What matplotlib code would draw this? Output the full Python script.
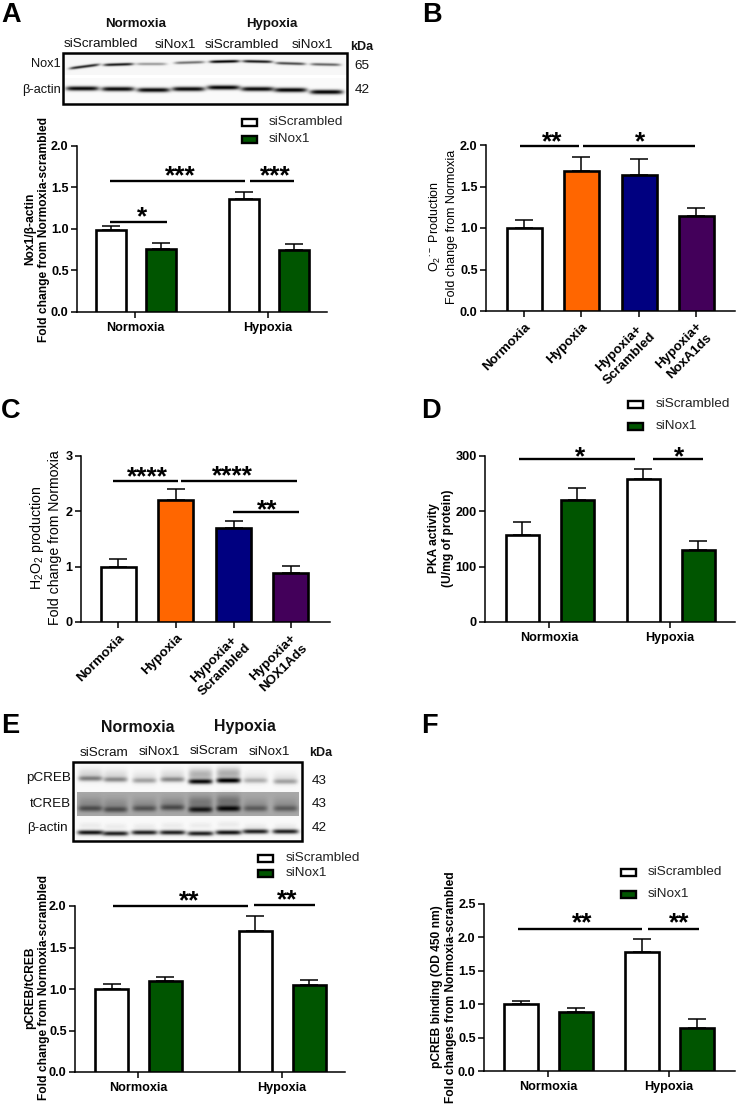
import numpy as np
import matplotlib
matplotlib.use("Agg")
import matplotlib.pyplot as plt
from matplotlib.patches import Rectangle

plt.rcParams['font.family'] = ['Liberation Sans', 'DejaVu Sans']
plt.rcParams['mathtext.fontset'] = 'custom'
plt.rcParams['mathtext.rm'] = 'Liberation Sans'
plt.rcParams['mathtext.bf'] = 'Liberation Sans:bold'
plt.rcParams['mathtext.default'] = 'regular'

W, H = 737, 1104

# bar data
nox1_vals = [0.99, 0.76, 1.36, 0.75]
nox1_err = [0.05, 0.07, 0.09, 0.07]
o2_vals = [1.0, 1.69, 1.64, 1.15]
o2_err = [0.10, 0.16, 0.19, 0.09]
h2o2_vals = [1.0, 2.2, 1.7, 0.88]
h2o2_err = [0.14, 0.21, 0.12, 0.13]
pka_vals = [157, 220, 259, 130]
pka_err = [24, 23, 18, 17]
creb_vals = [1.0, 1.1, 1.7, 1.05]
creb_err = [0.06, 0.04, 0.18, 0.06]
binding_vals = [1.0, 0.89, 1.78, 0.64]
binding_err = [0.05, 0.05, 0.19, 0.14]

group_labels = ['Normoxia', 'Hypoxia']
labels_b = ['Normoxia', 'Hypoxia', 'Hypoxia+\nScrambled', 'Hypoxia+\nNoxA1ds']
labels_c = ['Normoxia', 'Hypoxia', 'Hypoxia+\nScrambled', 'Hypoxia+\nNOX1Ads']

# blot band darkness per lane, read by eye
nox1_band = [0.8, 0.85, 0.35, 0.5, 0.95, 0.85, 0.65, 0.55]
actin_a_band = [0.95, 0.95, 0.95, 0.95, 0.97, 0.95, 0.97, 0.97]
pcreb_band = [0.45, 0.4, 0.3, 0.4, 0.95, 1.0, 0.25, 0.3]
tcreb_band = [0.5, 0.5, 0.45, 0.5, 0.85, 0.95, 0.4, 0.4]
actin_e_band = [0.9, 0.85, 0.85, 0.85, 0.85, 0.9, 0.85, 0.85]

WHITE, GREEN = 'white', '#005500'
ORANGE, NAVY, PURPLE = '#FF6600', '#000080', '#43005A'

fig = plt.figure(figsize=(W / 100, H / 100), dpi=100)
over = fig.add_axes([0, 0, 1, 1], zorder=5)
over.set_xlim(0, W)
over.set_ylim(H, 0)
over.axis('off')
over.patch.set_alpha(0)


def bar_panel(left, right, y0, ytop, ymax, yticks, fmt, vals, errs, colors, centers, width, ticks, labels, rotate=False):
    ax = fig.add_axes([left / W, 1 - y0 / H, (right - left) / W, (y0 - ytop) / H])
    ax.set_xlim(left, right)
    ax.set_ylim(0, ymax)
    ax.bar(centers, vals, width=width, color=colors, edgecolor='black', linewidth=1.9, zorder=3)
    ax.errorbar(centers, vals, yerr=[np.zeros(len(vals)), errs], fmt='none', ecolor='black',
                elinewidth=1.1, capsize=6.2, capthick=1.1, zorder=2)
    ax.spines['top'].set_visible(False)
    ax.spines['right'].set_visible(False)
    ax.spines['left'].set_linewidth(1.1)
    ax.spines['bottom'].set_linewidth(1.1)
    ax.set_yticks(yticks)
    ax.set_yticklabels([fmt % t for t in yticks], fontsize=9.1, fontweight='bold')
    ax.set_xticks(ticks)
    ax.tick_params(axis='y', length=4.5, width=1.1, pad=1.5)
    ax.tick_params(axis='x', length=4, width=1.1, pad=3)
    if rotate:
        ax.set_xticklabels(labels, fontsize=9.6, fontweight='bold', rotation=45, ha='right',
                           rotation_mode='anchor', multialignment='center', linespacing=1.25)
    else:
        ax.set_xticklabels(labels, fontsize=9.1, fontweight='bold')
    return ax


def sig(x1, x2, y, stars=None, sx=None, sy=None):
    over.plot([x1, x2], [y, y], color='black', lw=1.7, solid_capstyle='butt')
    if stars:
        over.text(sx, sy + 5, stars, fontsize=19, fontweight='bold', ha='center', va='center')


def legend(bx, y1, y2, tx, size=9.7):
    for y, c, name in [(y1, WHITE, 'siScrambled'), (y2, GREEN, 'siNox1')]:
        over.add_patch(Rectangle((bx, y - 3.5), 15.5, 7, facecolor=c, edgecolor='black', lw=1.7))
        over.text(tx, y, name, fontsize=size, ha='left', va='center', color='#222222')


def txt(x, y, s, size=9.7, bold=False, ha='center', color='#111111', **kw):
    over.text(x, y, s, fontsize=size, fontweight='bold' if bold else 'normal', ha=ha, va='center',
              color=color, **kw)


def add_bands(img, x0, y0, xs, ys, darks, hw, sy, slope=None):
    yy, xx = np.mgrid[0:img.shape[0], 0:img.shape[1]]
    for i in range(len(xs)):
        s = slope[i] if slope else 0
        px = np.exp(-((xx + x0 - xs[i]) / hw) ** 6)
        py = np.exp(-((yy + y0 - ys[i] - s * (xx + x0 - xs[i])) / sy) ** 2)
        img *= 1 - darks[i] * px * py


# --- A blot
ax0, ay0, ax1, ay1 = 63, 53, 347, 104
img = np.full((ay1 - ay0, ax1 - ax0), 0.965)
img[22:25, :] = 1.0
img[25:, :] = 0.98
add_bands(img, ax0, ay0, [84, 118, 151, 189, 224, 257, 290, 325], [66, 64, 63.5, 62, 61, 61, 63, 64],
          nox1_band, 15, 1.5, slope=[-0.13, -0.03, 0, -0.03, -0.02, 0.02, 0.03, 0.02])
add_bands(img, ax0, ay0, [82, 117.5, 153, 188, 223, 257, 290, 326], [88, 88.5, 89.5, 88.5, 87, 88.5, 89.5, 91.5],
          actin_a_band, 16.5, 2.3)
over.imshow(img, cmap='gray', vmin=0, vmax=1, extent=(ax0, ax1, ay1, ay0), aspect='auto', interpolation='bilinear')
over.add_patch(Rectangle((ax0, ay0), ax1 - ax0, ay1 - ay0, fill=False, edgecolor='black', lw=1.8))

txt(136, 24, 'Normoxia', 9.5, True)
txt(272, 24, 'Hypoxia', 9.5, True)
txt(101, 44, 'siScrambled')
txt(175, 45, 'siNox1')
txt(242, 45, 'siScrambled')
txt(312, 45, 'siNox1')
txt(362, 47, 'kDa', 9, True)
txt(61, 64, 'Nox1', 9.2, ha='right')
txt(61, 90, 'β-actin', 9.2, ha='right')
txt(362, 66, '65', 9.7)
txt(362, 90, '42', 9.7)

# --- E blot
ex0, ey0, ex1, ey1 = 73, 762, 302, 841
img = np.full((ey1 - ey0, ex1 - ex0), 0.975)
img[30:54, 4:-3] = 0.66
lanes = [90, 115, 144, 172, 200, 228, 255, 285]
add_bands(img, ex0, ey0, lanes, [778, 779, 780, 779, 781, 780, 780, 781], pcreb_band, 12, 2.6)
add_bands(img, ex0, ey0, lanes, [774, 775, 777, 775, 774, 773, 777, 778],
          [d * 0.3 for d in pcreb_band], 12, 6)
add_bands(img, ex0, ey0, lanes, [808, 809, 808, 807, 809, 808, 808, 808], tcreb_band, 12, 3)
add_bands(img, ex0, ey0, lanes, [803, 804, 804, 803, 802, 801, 804, 804],
          [d * 0.35 for d in tcreb_band], 12, 6.5)
add_bands(img, ex0, ey0, lanes, [832, 833, 832, 832, 833, 832, 831, 831], actin_e_band, 13, 2.4)
add_bands(img, ex0, ey0, lanes, [825, 826, 826, 825, 825, 824, 826, 826],
          [d * 0.06 for d in actin_e_band], 11, 3)
over.imshow(img, cmap='gray', vmin=0, vmax=1, extent=(ex0, ex1, ey1, ey0), aspect='auto', interpolation='bilinear')
over.add_patch(Rectangle((ex0, ey0), ex1 - ex0, ey1 - ey0, fill=False, edgecolor='black', lw=1.8))
over.set_xlim(0, W)
over.set_ylim(H, 0)

txt(138, 727, 'Normoxia', 11.4, True)
txt(245, 727, 'Hypoxia', 11.4, True)
txt(104, 753, 'siScram')
txt(159, 752, 'siNox1')
txt(214, 751, 'siScram')
txt(269, 752, 'siNox1')
txt(321, 753, 'kDa', 9, True)
txt(71, 778, 'pCREB', 9.7, ha='right')
txt(71, 804, 'tCREB', 9.7, ha='right')
txt(68, 828, 'β-actin', 9.7, ha='right')
txt(319, 781, '43')
txt(319, 804, '43')
txt(319, 828, '42')

# --- bar panels
bar_panel(77, 327, 312, 146, 2.0, [0, 0.5, 1, 1.5, 2], '%.1f', nox1_vals, nox1_err,
          [WHITE, GREEN, WHITE, GREEN], [110.5, 160.5, 243.5, 293.5], 30, [135, 268], group_labels)
bar_panel(486, 735, 311, 145, 2.0, [0, 0.5, 1, 1.5, 2], '%.1f', o2_vals, o2_err,
          [WHITE, ORANGE, NAVY, PURPLE], [524, 581, 639, 696], 35, [524, 581, 639, 696], labels_b, rotate=True)
bar_panel(81, 330, 622, 456, 3, [0, 1, 2, 3], '%d', h2o2_vals, h2o2_err,
          [WHITE, ORANGE, NAVY, PURPLE], [118.5, 176, 234, 291], 35, [118.5, 176, 234, 291], labels_c, rotate=True)
bar_panel(485, 735, 622, 456, 300, [0, 100, 200, 300], '%d', pka_vals, pka_err,
          [WHITE, GREEN, WHITE, GREEN], [522, 577, 643, 698], 33, [549, 670], group_labels)
bar_panel(75, 345, 1072, 906, 2.0, [0, 0.5, 1, 1.5, 2], '%.1f', creb_vals, creb_err,
          [WHITE, GREEN, WHITE, GREEN], [111.5, 165, 255, 309], 33, [138, 282], group_labels)
bar_panel(484, 735, 1071, 904, 2.5, [0, 0.5, 1, 1.5, 2, 2.5], '%.1f', binding_vals, binding_err,
          [WHITE, GREEN, WHITE, GREEN], [520.5, 575.5, 641.5, 696.5], 34, [548, 669], group_labels)

# y titles
txt(37, 229, 'Nox1/β-actin\nFold change from Normoxia-scrambled', 8.65, True, color='black', rotation=90, multialignment='center', linespacing=1.15)
txt(443, 227, 'O$_2$$^{\\bullet-}$ Production\nFold change from Normoxia', 9, color='black', rotation=90, multialignment='center', linespacing=1.25)
txt(45, 538, 'H$_2$O$_2$ production\nFold change from Normoxia', 10.2, color='black', rotation=90, multialignment='center', linespacing=1.15)
txt(441, 538, 'PKA activity\n(U/mg of protein)', 8.65, True, color='black', rotation=90, multialignment='center', linespacing=1.15)
txt(37, 988, 'pCREB/tCREB\nFold change from Normoxia-scrambled', 8.65, True, color='black', rotation=90, multialignment='center', linespacing=1.15)
txt(444, 987, 'pCREB binding (OD 450 nm)\nFold changes from Normoxia-scrambled', 8.65, True, color='black', rotation=90, multialignment='center', linespacing=1.15)

# significance bars
sig(110, 245, 181, '***', 180, 171)
sig(250, 294, 181, '***', 275, 171)
sig(110, 167, 222, '*', 142, 212)
sig(520, 579, 146, '**', 552, 137)
sig(583, 695, 146, '*', 640, 137)
sig(113, 178, 481, '****', 147, 472)
sig(181, 297, 481, '****', 232, 471)
sig(233, 299, 512, '**', 267, 505)
sig(519, 635, 459, '*', 580, 452)
sig(653, 703, 459, '*', 679, 452)
sig(113, 248, 906, '**', 189, 896)
sig(254, 315, 905, '**', 287, 895)
sig(518, 642, 929, '**', 582, 918)
sig(648, 699, 929, '**', 679, 918)

# legends
legend(242, 122, 139, 269)
legend(628, 404, 426, 656)
legend(258, 858, 873, 286)
legend(621, 872, 894, 648)

# panel letters
for lx, ly, s in [(1, 22, 'A'), (422, 22, 'B'), (1, 418, 'C'), (421, 418, 'D'), (1, 733, 'E'), (421, 733, 'F')]:
    over.text(lx, ly, s, fontsize=19.5, fontweight='bold', ha='left', va='baseline')

fig.savefig('out.png', dpi=100)
